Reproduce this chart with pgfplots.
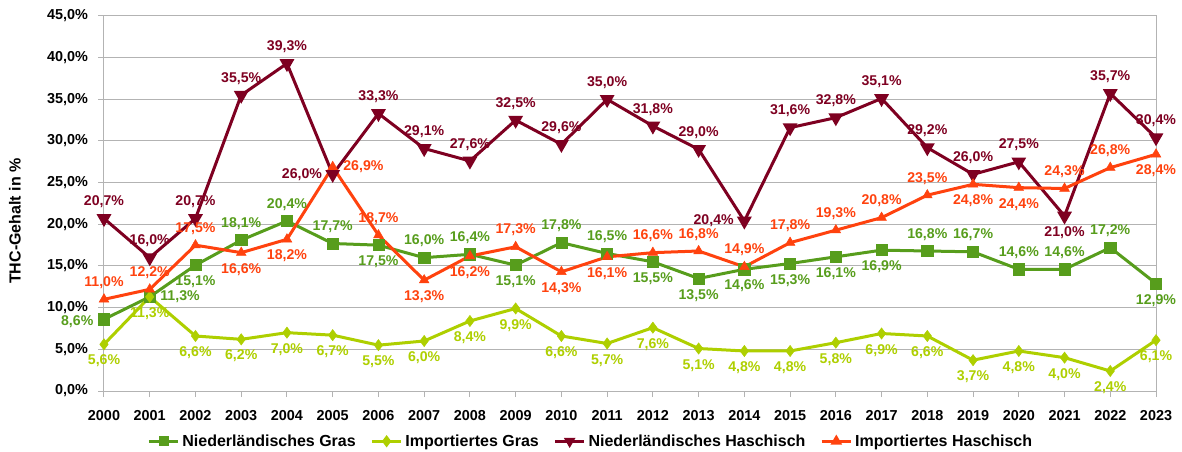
\documentclass[border=0pt]{standalone}
\usepackage{fontspec}
\setmainfont{Liberation Sans}
\usepackage{pgfplots}
\pgfplotsset{compat=1.18}
\usepackage{pgfplotstable}
\usetikzlibrary{calc}

\definecolor{nlgras}{HTML}{579D1C}
\definecolor{impgras}{HTML}{AECF00}
\definecolor{nlhasch}{HTML}{7E0021}
\definecolor{imphasch}{HTML}{FF420E}
\definecolor{gridgray}{HTML}{B3B3B3}

\pgfplotstableread{
x y
2000 8.6
2001 11.3
2002 15.1
2003 18.1
2004 20.4
2005 17.7
2006 17.5
2007 16.0
2008 16.4
2009 15.1
2010 17.8
2011 16.5
2012 15.5
2013 13.5
2014 14.6
2015 15.3
2016 16.1
2017 16.9
2018 16.8
2019 16.7
2020 14.6
2021 14.6
2022 17.2
2023 12.9
}\nlgras

\pgfplotstableread{
x y
2000 5.6
2001 11.3
2002 6.6
2003 6.2
2004 7.0
2005 6.7
2006 5.5
2007 6.0
2008 8.4
2009 9.9
2010 6.6
2011 5.7
2012 7.6
2013 5.1
2014 4.8
2015 4.8
2016 5.8
2017 6.9
2018 6.6
2019 3.7
2020 4.8
2021 4.0
2022 2.4
2023 6.1
}\impgras

\pgfplotstableread{
x y
2000 20.7
2001 16.0
2002 20.7
2003 35.5
2004 39.3
2005 26.0
2006 33.3
2007 29.1
2008 27.6
2009 32.5
2010 29.6
2011 35.0
2012 31.8
2013 29.0
2014 20.4
2015 31.6
2016 32.8
2017 35.1
2018 29.2
2019 26.0
2020 27.5
2021 21.0
2022 35.7
2023 30.4
}\nlhasch

\pgfplotstableread{
x y
2000 11.0
2001 12.2
2002 17.5
2003 16.6
2004 18.2
2005 26.9
2006 18.7
2007 13.3
2008 16.2
2009 17.3
2010 14.3
2011 16.1
2012 16.6
2013 16.8
2014 14.9
2015 17.8
2016 19.3
2017 20.8
2018 23.5
2019 24.8
2020 24.4
2021 24.3
2022 26.8
2023 28.4
}\imphasch

\pgfplotsset{
  ser/.style={forget plot, line width=2.25pt, mark options={line width=0.4pt}},
  lab/.style={
    forget plot, draw=none, mark=none,
    nodes near coords={\pgfmathprintnumber[fixed,fixed zerofill,precision=1,use comma]{\pgfplotspointmeta}\%},
    every node near coord/.append style={font=\bfseries\fontsize{10.6}{12}\selectfont, inner sep=1pt, outer sep=7pt, anchor=#1},
  },
}

\begin{document}
\begin{tikzpicture}
\begin{axis}[
  scale only axis, width=789pt, height=281.25pt,
  xmin=2000, xmax=2023, ymin=0, ymax=45,
  xtick={2000,2001,...,2023}, ytick={0,5,...,45},
  clip=false,
  ymajorgrids,
  grid style={draw=gridgray, line width=0.75pt},
  axis line style={draw=gridgray, line width=0.75pt},
  tick style={draw=gridgray, line width=0.75pt},
  tick align=outside, major tick length=4.5pt,
  tick pos=left,
  /pgf/number format/assume math mode=true,
  /pgf/number format/1000 sep={},
  xticklabel style={font=\bfseries\fontsize{10.8}{12}\selectfont, yshift=-6.4pt, text=black},
  yticklabel={\pgfmathprintnumber[fixed,fixed zerofill,precision=1,use comma]{\tick}\%},
  yticklabel style={font=\bfseries\fontsize{10.8}{12}\selectfont, xshift=-4pt, text=black},
  ylabel={THC-Gehalt in \%},
  ylabel style={font=\bfseries\fontsize{12}{14}\selectfont, at={(axis description cs:-0.0846,0.453)}, anchor=center},
  legend columns=4,
  legend style={draw=none, fill=none, at={(axis description cs:0.463,-0.134)}, anchor=center,
    font=\bfseries\fontsize{12}{14}\selectfont,
    /tikz/every even column/.append style={column sep=9pt}},
  legend image code/.code={\draw[mark repeat=2,mark phase=2,#1] plot coordinates {(0pt,0pt) (11pt,0pt) (22pt,0pt)};},
]
\addlegendimage{color=nlgras, mark=square*, mark size=2.6pt, line width=2.25pt}
\addlegendentry{Niederländisches Gras}
\addlegendimage{color=impgras, mark=diamond*, mark size=2.8pt, line width=2.25pt}
\addlegendentry{Importiertes Gras}
\addlegendimage{color=nlhasch, mark=triangle*, mark size=2.8pt, mark options={rotate=180}, line width=2.25pt}
\addlegendentry{Niederländisches Haschisch}
\addlegendimage{color=imphasch, mark=triangle*, mark size=2.8pt, line width=2.25pt}
\addlegendentry{Importiertes Haschisch}
% lines
\addplot[color=nlgras, mark=square*, mark size=4.2pt, ser] table[x=x,y=y]{\nlgras};
\addplot[color=impgras, mark=diamond*, mark size=4.2pt, ser] table[x=x,y=y]{\impgras};
\addplot[color=nlhasch, mark=triangle*, mark size=4.2pt, ser, mark options={rotate=180}] table[x=x,y=y]{\nlhasch};
\addplot[color=imphasch, mark=triangle*, mark size=4.2pt, ser] table[x=x,y=y]{\imphasch};
% labels: Niederlaendisches Gras
\addplot[color=nlgras, lab=east, every node near coord/.append style={yshift=-1.5pt}] coordinates {(2000,8.6)};
\addplot[color=nlgras, lab=west] coordinates {(2001,11.3)};
\addplot[color=nlgras, lab=north] coordinates {(2002,15.1) (2006,17.5) (2009,15.1) (2012,15.5) (2013,13.5) (2014,14.6) (2015,15.3) (2016,16.1) (2017,16.9) (2023,12.9)};
\addplot[color=nlgras, lab=south] coordinates {(2003,18.1) (2004,20.4) (2005,17.7) (2007,16.0) (2008,16.4) (2010,17.8) (2011,16.5) (2018,16.8) (2019,16.7) (2020,14.6) (2021,14.6) (2022,17.2)};
% labels: Importiertes Gras
\addplot[color=impgras, lab=north] table[x=x,y=y]{\impgras};
% labels: Niederlaendisches Haschisch
\addplot[color=nlhasch, lab=east] coordinates {(2005,26.0) (2014,20.4)};
\addplot[color=nlhasch, lab=north] coordinates {(2021,21.0)};
\addplot[color=nlhasch, lab=south] coordinates {(2000,20.7) (2001,16.0) (2002,20.7) (2003,35.5) (2004,39.3) (2006,33.3) (2007,29.1) (2008,27.6) (2009,32.5) (2010,29.6) (2011,35.0) (2012,31.8) (2013,29.0) (2015,31.6) (2016,32.8) (2017,35.1) (2018,29.2) (2019,26.0) (2020,27.5) (2022,35.7) (2023,30.4)};
% labels: Importiertes Haschisch
\addplot[color=imphasch, lab=west] coordinates {(2005,26.9)};
\addplot[color=imphasch, lab=north] coordinates {(2003,16.6) (2004,18.2) (2007,13.3) (2008,16.2) (2010,14.3) (2011,16.1) (2019,24.8) (2020,24.4) (2023,28.4)};
\addplot[color=imphasch, lab=south] coordinates {(2000,11.0) (2001,12.2) (2002,17.5) (2006,18.7) (2009,17.3) (2012,16.6) (2013,16.8) (2014,14.9) (2015,17.8) (2016,19.3) (2017,20.8) (2018,23.5) (2021,24.3) (2022,26.8)};
\coordinate (ll) at (rel axis cs:0,0);
\coordinate (ur) at (rel axis cs:1,1);
\end{axis}
\pgfresetboundingbox
\path[use as bounding box] ($(ll)+(-78pt,-45.75pt)$) rectangle ($(ur)+(19.5pt,12pt)$);
\end{tikzpicture}
\end{document}
